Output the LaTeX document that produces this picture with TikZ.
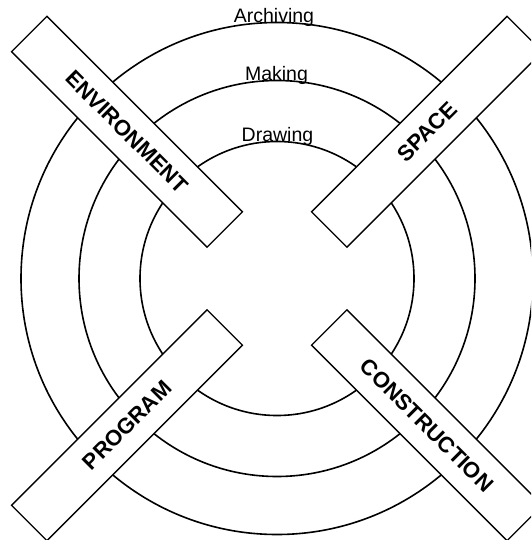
\documentclass[tikz,border=0pt]{standalone}
\usepackage{fontspec}
\setmainfont{Liberation Sans}
\begin{document}
\begin{tikzpicture}[x=1pt,y=-1pt,
 ring/.style={draw=black,line width=1.6pt},
 bar/.style={draw=black,fill=white,line width=1.3pt,minimum width=276.5pt,minimum height=50pt,inner sep=0pt,font=\fontsize{22}{26}\selectfont\bfseries},
 lvl/.style={font=\fontsize{19.5}{23}\selectfont,inner sep=0pt,anchor=base}]
\useasboundingbox (0,0) rectangle (531,540);
\clip (0,0) rectangle (531,540);
\coordinate (c) at (277,278.5);
\draw[ring] (c) circle[radius=256pt];
\draw[ring] (c) circle[radius=198pt];
\draw[ring] (c) circle[radius=137pt];
\node[lvl] (arch) at (274,23) {Archiving};
\node[lvl] (make) at (276.5,80.5) {Making};
\node[lvl] (draw) at (277.5,141.5) {Drawing};
\node[bar,rotate=-45] (env) at (127,131.75) {ENVIRONMENT};
\node[bar,rotate=45] (space) at (427,131.75) {SPACE};
\node[bar,rotate=45] (prog) at (127,425.25) {PROGRAM};
\node[bar,rotate=-45] (cons) at (427,425.25) {CONSTRUCTION};
\end{tikzpicture}
\end{document}
